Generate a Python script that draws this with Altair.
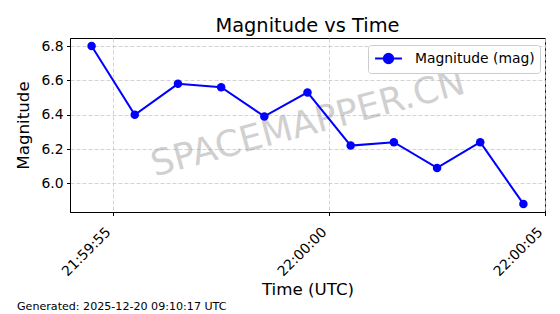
import altair as alt
import pandas as pd

# ---- data ----
times = ["21:59:54.5", "21:59:55.5", "21:59:56.5", "21:59:57.5", "21:59:58.5",
         "21:59:59.5", "22:00:00.5", "22:00:01.5", "22:00:02.5", "22:00:03.5",
         "22:00:04.5"]
magnitudes = [6.80, 6.40, 6.58, 6.56, 6.39, 6.53, 6.22, 6.24, 6.09, 6.24, 5.88]
x_tick_labels = ["21:59:55", "22:00:00", "22:00:05"]
x_domain_labels = ["21:59:54", "22:00:05"]
y_ticks = [6.0, 6.2, 6.4, 6.6, 6.8]
y_domain = [5.833, 6.847]
series_name = "Magnitude (mag)"
chart_title = "Magnitude vs Time"
x_title = "Time (UTC)"
y_title = "Magnitude"
footer = "Generated: 2025-12-20 09:10:17 UTC"
watermark = "SPACEMAPPER.CN"


def to_sec(t):
    h, m, s = t.split(":")
    return int(h) * 3600 + int(m) * 60 + float(s)


df = pd.DataFrame({
    "t": [to_sec(t) for t in times],
    "mag": magnitudes,
    "series": [series_name] * len(times),
})

FONT = "DejaVu Sans"
legend_path = ("M-1.9,0H1.9M0.66,0A0.66,0.66 0 1 1 -0.66,0"
               "A0.66,0.66 0 1 1 0.66,0Z")

x_enc = alt.X(
    "t:Q",
    scale=alt.Scale(domain=[to_sec(v) for v in x_domain_labels], nice=False, zero=False),
    axis=alt.Axis(
        title=x_title,
        values=[to_sec(v) for v in x_tick_labels],
        labelExpr="utcFormat(datum.value*1000, '%H:%M:%S')",
        labelAngle=315, labelAlign="right", labelBaseline="bottom",
        labelPadding=19,
        titlePadding=3,
    ),
)
y_enc = alt.Y(
    "mag:Q",
    scale=alt.Scale(domain=y_domain, nice=False, zero=False),
    axis=alt.Axis(title=y_title, values=y_ticks, format=".1f", titlePadding=8,
                  labelPadding=3.5),
)
legend = alt.Legend(
    title=None, orient="none", legendX=298, legendY=7,
    symbolType=legend_path, symbolSize=200, symbolStrokeWidth=2,
    symbolFillColor="#0000ff", symbolStrokeColor="#0000ff", symbolOpacity=1,
    symbolOffset=7,
    labelFont=FONT, labelFontSize=13.9, labelColor="black", labelOffset=18,
    strokeColor="#cccccc", fillColor="white", cornerRadius=3, padding=5,
)
color_enc = alt.Color("series:N", scale=alt.Scale(range=["#0000ff"]), legend=legend)

base = alt.Chart(df)
line = base.mark_line(strokeWidth=2).encode(x=x_enc, y=y_enc, color=color_enc)
points = base.mark_point(filled=True, size=72, opacity=1).encode(x=x_enc, y=y_enc, color=color_enc)

wm = alt.Chart(pd.DataFrame({"txt": [watermark]})).mark_text(
    font=FONT, fontSize=36, angle=345, color="#999999", opacity=0.45,
    align="center", baseline="middle",
).encode(text="txt:N", x=alt.value(238), y=alt.value(86))

foot = alt.Chart(pd.DataFrame({"txt": [footer]})).mark_text(
    font=FONT, fontSize=11.1, color="black", align="left", baseline="middle",
).encode(text="txt:N", x=alt.value(-53), y=alt.value(268.5))

chart = alt.layer(wm, line, points, foot).properties(
    width=475, height=174,
    background="white",
    title=alt.Title(chart_title, font=FONT, fontSize=19.4, fontWeight="normal",
                    anchor="middle", color="black", offset=2),
    autosize=alt.AutoSizeParams(type="none"),
    padding={"left": 70, "top": 38, "right": 15, "bottom": 102},
).configure_view(
    stroke="black", strokeWidth=1,
).configure_axis(
    labelFont=FONT, labelFontSize=13.9, labelColor="black",
    titleFont=FONT, titleFontSize=16.7, titleFontWeight="normal", titleColor="black",
    domainColor="black", domainWidth=1, tickColor="black", tickSize=3.5, tickWidth=1,
    grid=True, gridColor="#c8c8c8", gridDash=[4, 2], gridWidth=0.8,
)

chart.save("out.html", embed_options={"renderer": "svg", "actions": False})
